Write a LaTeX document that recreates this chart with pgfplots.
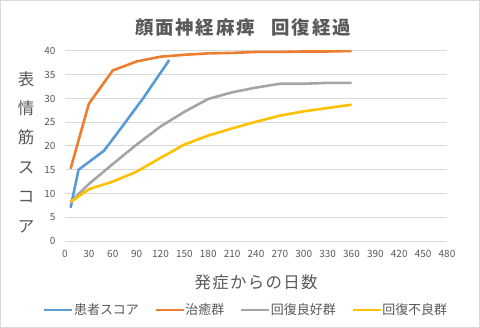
\documentclass[border=0pt]{standalone}
\usepackage{pgfplots}
\pgfplotsset{compat=1.18}
\usepackage{fontspec}
\setmainfont{Noto Sans CJK JP}
\definecolor{txt}{HTML}{595959}
\definecolor{grd}{HTML}{D9D9D9}
\definecolor{cblue}{HTML}{5B9BD5}
\definecolor{corange}{HTML}{ED7D31}
\definecolor{cgray}{HTML}{A5A5A5}
\definecolor{cgold}{HTML}{FFC000}
\begin{document}
\begin{tikzpicture}
\path[use as bounding box] (0,0) rectangle (480bp,328bp);
\fill[white] (0,0) rectangle (480bp,328bp);
\draw[grd, line width=1bp] (0.5bp,0.5bp) rectangle (479.5bp,327.5bp);
\node[text=txt, font=\fontsize{18.5}{20}\selectfont\bfseries\addfontfeature{LetterSpace=10}] at (243bp,300bp) {顔面神経麻痺\hspace{0.9em}回復経過};
\begin{axis}[
  at={(65bp,87bp)}, anchor=south west,
  scale only axis, width=382bp, height=190bp,
  xmin=0, xmax=480, ymin=0, ymax=40,
  xtick={0,30,...,480}, ytick={0,5,...,40},
  axis line style={draw=none},
  major tick length=0pt,
  ymajorgrids, grid style={grd, line width=1bp},
  tick label style={text=txt, font=\fontsize{10}{12}\selectfont},
  /pgf/number format/assume math mode=true,
  xticklabel style={yshift=-6bp},
  yticklabel style={xshift=-6bp},
  xlabel={発症からの日数},
  xlabel style={at={(axis description cs:0.5,-0.216)}, anchor=center, text=txt, font=\fontsize{16.5}{18}\selectfont\addfontfeature{LetterSpace=8}},
  ylabel={表\\情\\筋\\ス\\コ\\ア},
  ylabel style={at={(axis description cs:-0.102,0.468)}, anchor=center, rotate=-90, text=txt, font=\fontsize{16.5}{29.5}\selectfont, align=center},
  legend columns=4,
  legend style={at={(axis description cs:0.472,-0.363)}, anchor=center, draw=none, fill=none,
    font=\fontsize{13}{15}\selectfont, text=txt, inner xsep=0pt,
    /tikz/every even column/.append style={column sep=15bp},
    nodes={inner xsep=0.5bp}},
  legend image code/.code={\draw[#1] (0bp,0bp) -- (28bp,0bp);},
  every axis plot/.append style={line width=2.6bp, line join=round},
]
\addplot[cblue] coordinates {(7,7.0) (17,15.0) (49,19.0) (75,24.8) (98,30.0) (131,38.1)};
\addlegendentry{患者スコア}
\addplot[corange] coordinates {(7,15.2) (30,28.9) (60,35.9) (90,37.8) (120,38.8) (150,39.2) (180,39.5) (210,39.6) (240,39.8) (270,39.8) (300,39.9) (330,39.9) (360,40)};
\addlegendentry{治癒群}
\addplot[cgray] coordinates {(7,8.2) (30,12) (60,16.2) (90,20.3) (120,24.1) (150,27.2) (180,29.9) (210,31.3) (240,32.3) (270,33.1) (300,33.1) (330,33.3) (360,33.3)};
\addlegendentry{回復良好群}
\addplot[cgold] coordinates {(7,8.2) (30,10.9) (60,12.5) (90,14.6) (120,17.5) (150,20.3) (180,22.2) (210,23.7) (240,25.1) (270,26.4) (300,27.3) (330,28.0) (360,28.7)};
\addlegendentry{回復不良群}
\end{axis}
\end{tikzpicture}
\end{document}
